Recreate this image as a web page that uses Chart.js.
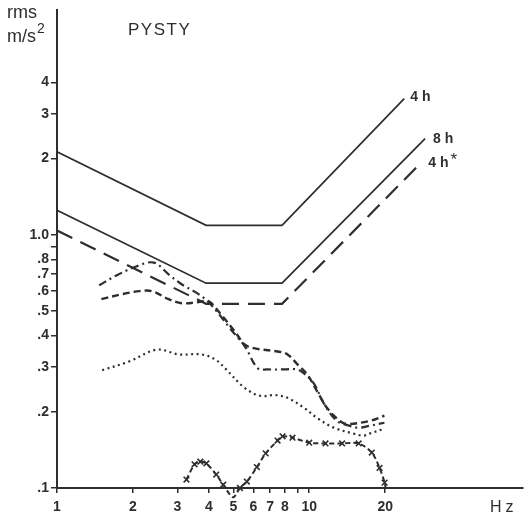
<!DOCTYPE html>
<html>
<head>
<meta charset="utf-8">
<script src="https://cdn.jsdelivr.net/npm/chart.js@4"></script>
<style>
  body { margin: 0; background: #fff; }
  #wrap { width: 528px; height: 520px; position: relative; }
</style>
</head>
<body>
<div id="wrap"><canvas id="chart"></canvas></div>
<script>
// Axis ticks
const xTickValues = [1, 2, 3, 4, 5, 6, 7, 8, 9, 10, 20];
const xTickLabels = ["1", "2", "3", "4", "5", "6", "7", "8", "", "10", "20"];
const yTickValues = [0.1, 0.2, 0.3, 0.4, 0.5, 0.6, 0.7, 0.8, 0.9, 1, 2, 3, 4];
const yTickLabels = [".1", ".2", ".3", ".4", ".5", ".6", ".7", ".8", "", "1.0", "2", "3", "4"];

// Limit curves (Hz, rms m/s2)
const limit4hHz = [1, 3.9, 7.8, 23.8];
const limit4hVal = [2.13, 1.09, 1.09, 3.45];
const limit8hHz = [1, 3.9, 7.8, 28.8];
const limit8hVal = [1.25, 0.644, 0.644, 2.4];
const limit4hStarHz = [1, 3.9, 7.8, 26.8];
const limit4hStarVal = [1.04, 0.534, 0.534, 1.86];

// Measured curves
const dashDotHz = [1.47, 1.72, 2.06, 2.42, 2.77, 3.12, 3.64, 4.09, 4.9, 5.56, 6.25, 6.84, 7.98, 8.98, 9.64, 10.47, 11.45, 12.88, 14.48, 15.7, 17.3, 19.86];
const dashDotVal = [0.632, 0.691, 0.75, 0.777, 0.698, 0.638, 0.583, 0.528, 0.422, 0.362, 0.297, 0.294, 0.294, 0.294, 0.281, 0.257, 0.215, 0.184, 0.176, 0.173, 0.176, 0.181];

const dashedHz = [1.5, 1.81, 2.12, 2.38, 2.77, 3.12, 3.64, 3.98, 4.48, 5.08, 5.56, 6.09, 7.49, 8.2, 8.98, 9.82, 10.75, 11.77, 13.24, 14.1, 17.34, 19.86];
const dashedVal = [0.557, 0.583, 0.599, 0.599, 0.557, 0.537, 0.542, 0.547, 0.483, 0.414, 0.368, 0.356, 0.346, 0.337, 0.308, 0.281, 0.241, 0.207, 0.184, 0.179, 0.184, 0.193];

const dottedHz = [1.51, 1.93, 2.49, 3.04, 3.74, 4.24, 4.64, 5.56, 6.42, 7.29, 8.2, 9.56, 10.75, 12.53, 15.0, 16.4, 17.34, 19.68];
const dottedVal = [0.292, 0.316, 0.352, 0.337, 0.337, 0.322, 0.297, 0.248, 0.231, 0.233, 0.227, 0.207, 0.189, 0.173, 0.164, 0.161, 0.164, 0.171];

const markedHz = [3.26, 3.51, 3.7, 3.91, 4.28, 4.56, 4.99, 5.31, 5.66, 6.2, 6.72, 7.49, 7.84, 8.58, 10, 11.6, 13.5, 15.7, 17.7, 19.0, 19.9, 20.1];
const markedVal = [0.108, 0.124, 0.127, 0.125, 0.113, 0.103, 0.092, 0.1, 0.106, 0.121, 0.137, 0.154, 0.16, 0.158, 0.151, 0.15, 0.15, 0.15, 0.138, 0.12, 0.105, 0.099];

const ink = "#2e2e2e";

const toPoints = (xs, ys) => xs.map((x, i) => ({ x: x, y: ys[i] }));

// line-end labels: text, superscript, offset from last point
const endLabels = [
  { ds: 0, text: "4 h", sup: "", dx: 6, dy: 2 },
  { ds: 1, text: "8 h", sup: "", dx: 8, dy: 4 },
  { ds: 2, text: "4 h", sup: "*", dx: 11, dy: 0 }
];

const textPlugin = {
  id: "texts",
  afterDatasetsDraw(chart) {
    const ctx = chart.ctx;
    ctx.save();
    ctx.fillStyle = ink;
    ctx.textBaseline = "alphabetic";
    ctx.textAlign = "left";

    ctx.font = '18px "Liberation Sans"';
    ctx.fillText("rms", 7, 18);
    ctx.fillText("m/s", 7, 42);
    const w = ctx.measureText("m/s").width;
    ctx.font = '14px "Liberation Sans"';
    ctx.fillText("2", 7 + w + 1, 33);

    ctx.font = '17px "Liberation Sans"';
    ctx.letterSpacing = "1.5px";
    ctx.fillText("PYSTY", 128, 35);

    ctx.font = '16px "Liberation Sans"';
    ctx.letterSpacing = "4px";
    ctx.fillText("Hz", 490, 512);
    ctx.letterSpacing = "0px";

    endLabels.forEach(l => {
      const pts = chart.getDatasetMeta(l.ds).data;
      const p = pts[pts.length - 1];
      ctx.font = 'bold 14px "Liberation Sans"';
      ctx.fillText(l.text, p.x + l.dx, p.y + l.dy);
      if (l.sup) {
        const tw = ctx.measureText(l.text).width;
        ctx.font = '17px "Liberation Sans"';
        ctx.fillText(l.sup, p.x + l.dx + tw + 2, p.y + l.dy - 2);
      }
    });
    ctx.restore();
  }
};

new Chart(document.getElementById("chart"), {
  type: "line",
  data: {
    datasets: [
      { data: toPoints(limit4hHz, limit4hVal), borderColor: ink, borderWidth: 1.7, tension: 0 },
      { data: toPoints(limit8hHz, limit8hVal), borderColor: ink, borderWidth: 1.7, tension: 0 },
      { data: toPoints(limit4hStarHz, limit4hStarVal), borderColor: ink, borderWidth: 2.2, borderDash: [17, 9], tension: 0 },
      { data: toPoints(dashDotHz, dashDotVal), borderColor: ink, borderWidth: 2.2, borderDash: [8, 4, 2, 4], tension: 0.35 },
      { data: toPoints(dashedHz, dashedVal), borderColor: ink, borderWidth: 2.4, borderDash: [7, 4], tension: 0.35 },
      { data: toPoints(dottedHz, dottedVal), borderColor: ink, borderWidth: 2.2, borderDash: [2, 3.5], tension: 0.35 },
      {
        data: toPoints(markedHz, markedVal), borderColor: ink, borderWidth: 2, borderDash: [5, 3], tension: 0.3,
        pointStyle: "crossRot",
        pointRadius: (c) => (c.dataIndex === markedHz.length - 1 ? 0 : 4),
        pointBorderWidth: 1.6, pointBorderColor: ink, clip: false
      }
    ]
  },
  options: {
    responsive: true,
    maintainAspectRatio: false,
    animation: false,
    devicePixelRatio: 1,
    layout: { padding: { top: 5, right: 0, left: 0, bottom: 0 } },
    elements: { point: { radius: 0 } },
    plugins: { legend: { display: false }, tooltip: { enabled: false } },
    scales: {
      x: {
        type: "logarithmic",
        min: 1,
        max: 70,
        afterBuildTicks: (s) => { s.ticks = xTickValues.map(v => ({ value: v })); },
        afterFit: (s) => { s.height = 32; },
        grid: { drawOnChartArea: false, drawTicks: true, tickLength: 5, color: ink, lineWidth: 1.5 },
        border: { display: true, color: ink, width: 2 },
        ticks: {
          autoSkip: false, maxRotation: 0, padding: 6, color: ink,
          font: { family: "Liberation Sans", size: 14, weight: "bold" },
          callback: (v, i) => xTickLabels[i]
        }
      },
      y: {
        type: "logarithmic",
        min: 0.1,
        max: 7.7,
        afterBuildTicks: (s) => { s.ticks = yTickValues.map(v => ({ value: v })); },
        afterFit: (s) => { s.width = 57; },
        grid: { drawOnChartArea: false, drawTicks: true, tickLength: 6, color: ink, lineWidth: 1.5 },
        border: { display: true, color: ink, width: 2 },
        ticks: {
          autoSkip: false, padding: 2, color: ink,
          font: { family: "Liberation Sans", size: 14, weight: "bold" },
          callback: (v, i) => yTickLabels[i]
        }
      }
    }
  },
  plugins: [textPlugin]
});
</script>
</body>
</html>
